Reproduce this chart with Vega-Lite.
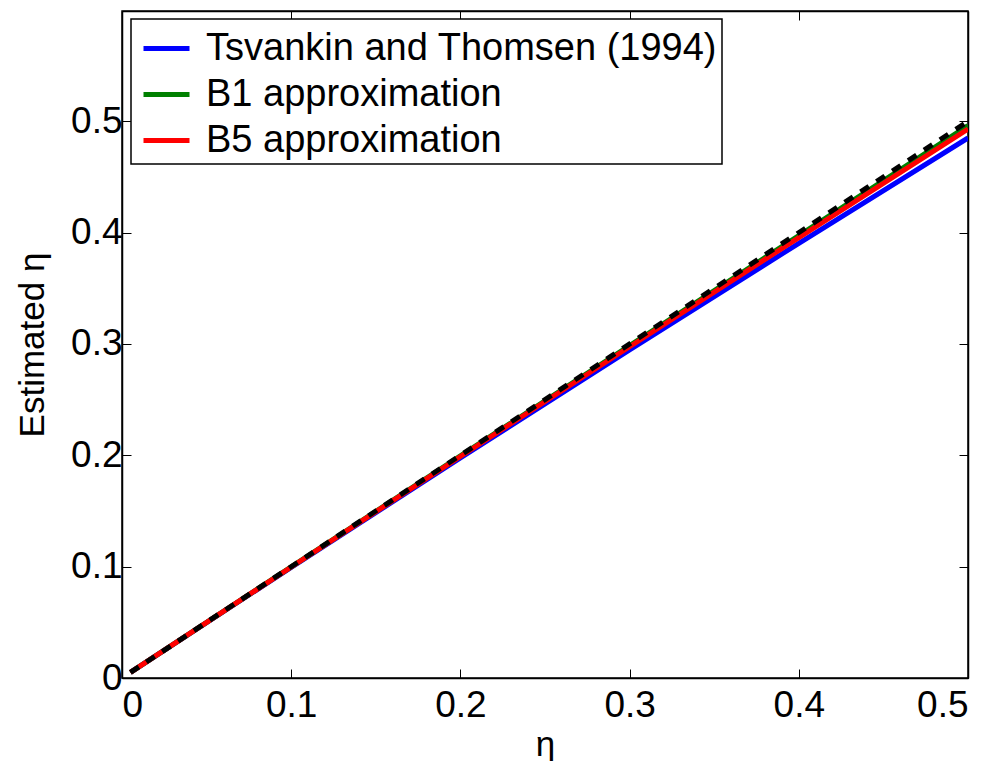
{
  "$schema": "https://vega.github.io/schema/vega-lite/v6.json",
  "autosize": "none",
  "width": 846,
  "height": 667,
  "padding": {"left": 122, "top": 11, "right": 31, "bottom": 83},
  "background": "white",
  "config": {
    "font": "Liberation Sans",
    "view": {"stroke": "black", "strokeWidth": 1.5},
    "axis": {
      "grid": false,
      "domainColor": "black",
      "domainWidth": 1.5,
      "tickColor": "black",
      "tickWidth": 1,
      "tickSize": -9,
      "labelFont": "Liberation Sans",
      "labelFontSize": 37,
      "labelColor": "black",
      "titleFont": "Liberation Sans",
      "titleFontSize": 35,
      "titleFontWeight": "normal",
      "titleColor": "black"
    },
    "legend": {
      "orient": "none",
      "legendX": 9,
      "legendY": 8,
      "fillColor": "white",
      "strokeColor": "black",
      "strokeWidth": 1.5,
      "padding": 4,
      "symbolType": "stroke",
      "symbolSize": 2116,
      "symbolStrokeWidth": 5,
      "symbolOffset": 6,
      "labelFont": "Liberation Sans",
      "labelFontSize": 38,
      "labelColor": "black",
      "labelLimit": 1000,
      "labelOffset": 14,
      "rowPadding": 1
    }
  },
  "datasets": {
    "curves": [
      {"eta": 0.005, "est": 0.005, "method": "Tsvankin and Thomsen (1994)"},
      {"eta": 0.1, "est": 0.0994, "method": "Tsvankin and Thomsen (1994)"},
      {"eta": 0.2, "est": 0.1976, "method": "Tsvankin and Thomsen (1994)"},
      {"eta": 0.3, "est": 0.2946, "method": "Tsvankin and Thomsen (1994)"},
      {"eta": 0.4, "est": 0.3904, "method": "Tsvankin and Thomsen (1994)"},
      {"eta": 0.5, "est": 0.485, "method": "Tsvankin and Thomsen (1994)"},
      {"eta": 0.005, "est": 0.005, "method": "B1 approximation"},
      {"eta": 0.1, "est": 0.0998, "method": "B1 approximation"},
      {"eta": 0.2, "est": 0.1994, "method": "B1 approximation"},
      {"eta": 0.3, "est": 0.2986, "method": "B1 approximation"},
      {"eta": 0.4, "est": 0.3974, "method": "B1 approximation"},
      {"eta": 0.5, "est": 0.496, "method": "B1 approximation"},
      {"eta": 0.005, "est": 0.005, "method": "B5 approximation"},
      {"eta": 0.1, "est": 0.0997, "method": "B5 approximation"},
      {"eta": 0.2, "est": 0.1989, "method": "B5 approximation"},
      {"eta": 0.3, "est": 0.2975, "method": "B5 approximation"},
      {"eta": 0.4, "est": 0.3955, "method": "B5 approximation"},
      {"eta": 0.5, "est": 0.493, "method": "B5 approximation"}
    ],
    "exact": [
      {"eta": 0.005, "est": 0.005},
      {"eta": 0.5, "est": 0.5}
    ]
  },
  "layer": [
    {
      "data": {"name": "curves"},
      "mark": {"type": "line", "strokeWidth": 5, "clip": true},
      "encoding": {
        "x": {
          "field": "eta", "type": "quantitative",
          "scale": {"domain": [0, 0.5], "nice": false, "zero": false},
          "axis": {"title": "η", "values": [0, 0.1, 0.2, 0.3, 0.4, 0.5], "format": "~g", "labelPadding": 18, "titlePadding": 4}
        },
        "y": {
          "field": "est", "type": "quantitative",
          "scale": {"domain": [0, 0.599], "nice": false, "zero": false},
          "axis": {"title": "Estimated η", "values": [0, 0.1, 0.2, 0.3, 0.4, 0.5], "format": "~g", "labelPadding": 9, "titlePadding": 20}
        },
        "color": {
          "field": "method", "type": "nominal",
          "scale": {
            "domain": ["Tsvankin and Thomsen (1994)", "B1 approximation", "B5 approximation"],
            "range": ["#0000ff", "#008000", "#ff0000"]
          },
          "legend": {"title": null}
        }
      }
    },
    {
      "data": {"name": "exact"},
      "mark": {"type": "line", "color": "black", "strokeWidth": 5, "strokeDash": [10, 9], "clip": true},
      "encoding": {
        "x": {"field": "eta", "type": "quantitative", "axis": null},
        "y": {"field": "est", "type": "quantitative", "axis": null}
      }
    },
    {
      "data": {"name": "exact"},
      "mark": {"type": "point", "opacity": 0},
      "encoding": {
        "x": {"field": "eta", "type": "quantitative", "axis": {"orient": "top", "values": [0, 0.1, 0.2, 0.3, 0.4, 0.5], "labels": false, "title": null}},
        "y": {"field": "est", "type": "quantitative", "axis": {"orient": "right", "values": [0, 0.1, 0.2, 0.3, 0.4, 0.5], "labels": false, "title": null}}
      }
    }
  ],
  "resolve": {"axis": {"x": "independent", "y": "independent"}}
}
